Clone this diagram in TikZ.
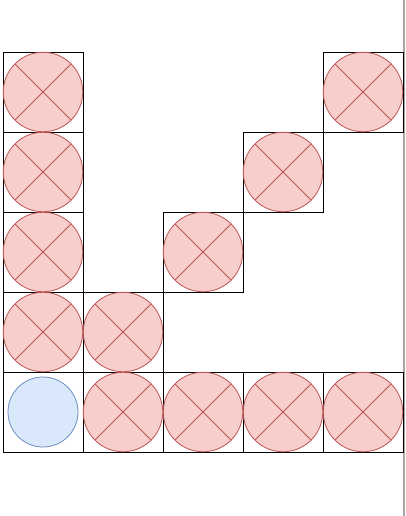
\documentclass[tikz,border=0pt]{standalone}
\definecolor{redfill}{HTML}{F8CECC}
\definecolor{redline}{HTML}{B85450}
\definecolor{bluefill}{HTML}{DAE8FC}
\definecolor{blueline}{HTML}{6C8EBF}
\begin{document}
\begin{tikzpicture}[x=1pt,y=-1pt,
  cellbox/.style={draw=black,line width=0.9pt,minimum size=80pt,inner sep=0pt,outer sep=0pt},
  xcirc/.style={circle,draw=redline,fill=redfill,line width=0.8pt,minimum size=79.5pt,inner sep=0pt,
    path picture={\draw[redline,line width=0.8pt]
      (path picture bounding box.north west) -- (path picture bounding box.south east)
      (path picture bounding box.north east) -- (path picture bounding box.south west);}},
  ocirc/.style={circle,draw=blueline,fill=bluefill,line width=0.8pt,minimum size=70pt,inner sep=0pt}]
\useasboundingbox (0,0) rectangle (405,516);
\fill[white] (0,0) rectangle (405,516);
\draw[gray!70,line width=1.2pt] (404,0) -- (404,516);
% cells: (col,row)
\foreach \c/\r in {0/0,0/1,0/2,0/3,0/4,1/3,1/4,2/2,2/4,3/1,3/4,4/0,4/4}{
  \node[cellbox] (b\c\r) at ({43+80*\c},{92+80*\r}) {};
}
\foreach \c/\r in {0/0,0/1,0/2,0/3,1/3,1/4,2/2,2/4,3/1,3/4,4/0,4/4}{
  \node[xcirc] (x\c\r) at (b\c\r) {};
}
\node[ocirc] (o04) at (b04) {};
\end{tikzpicture}
\end{document}
